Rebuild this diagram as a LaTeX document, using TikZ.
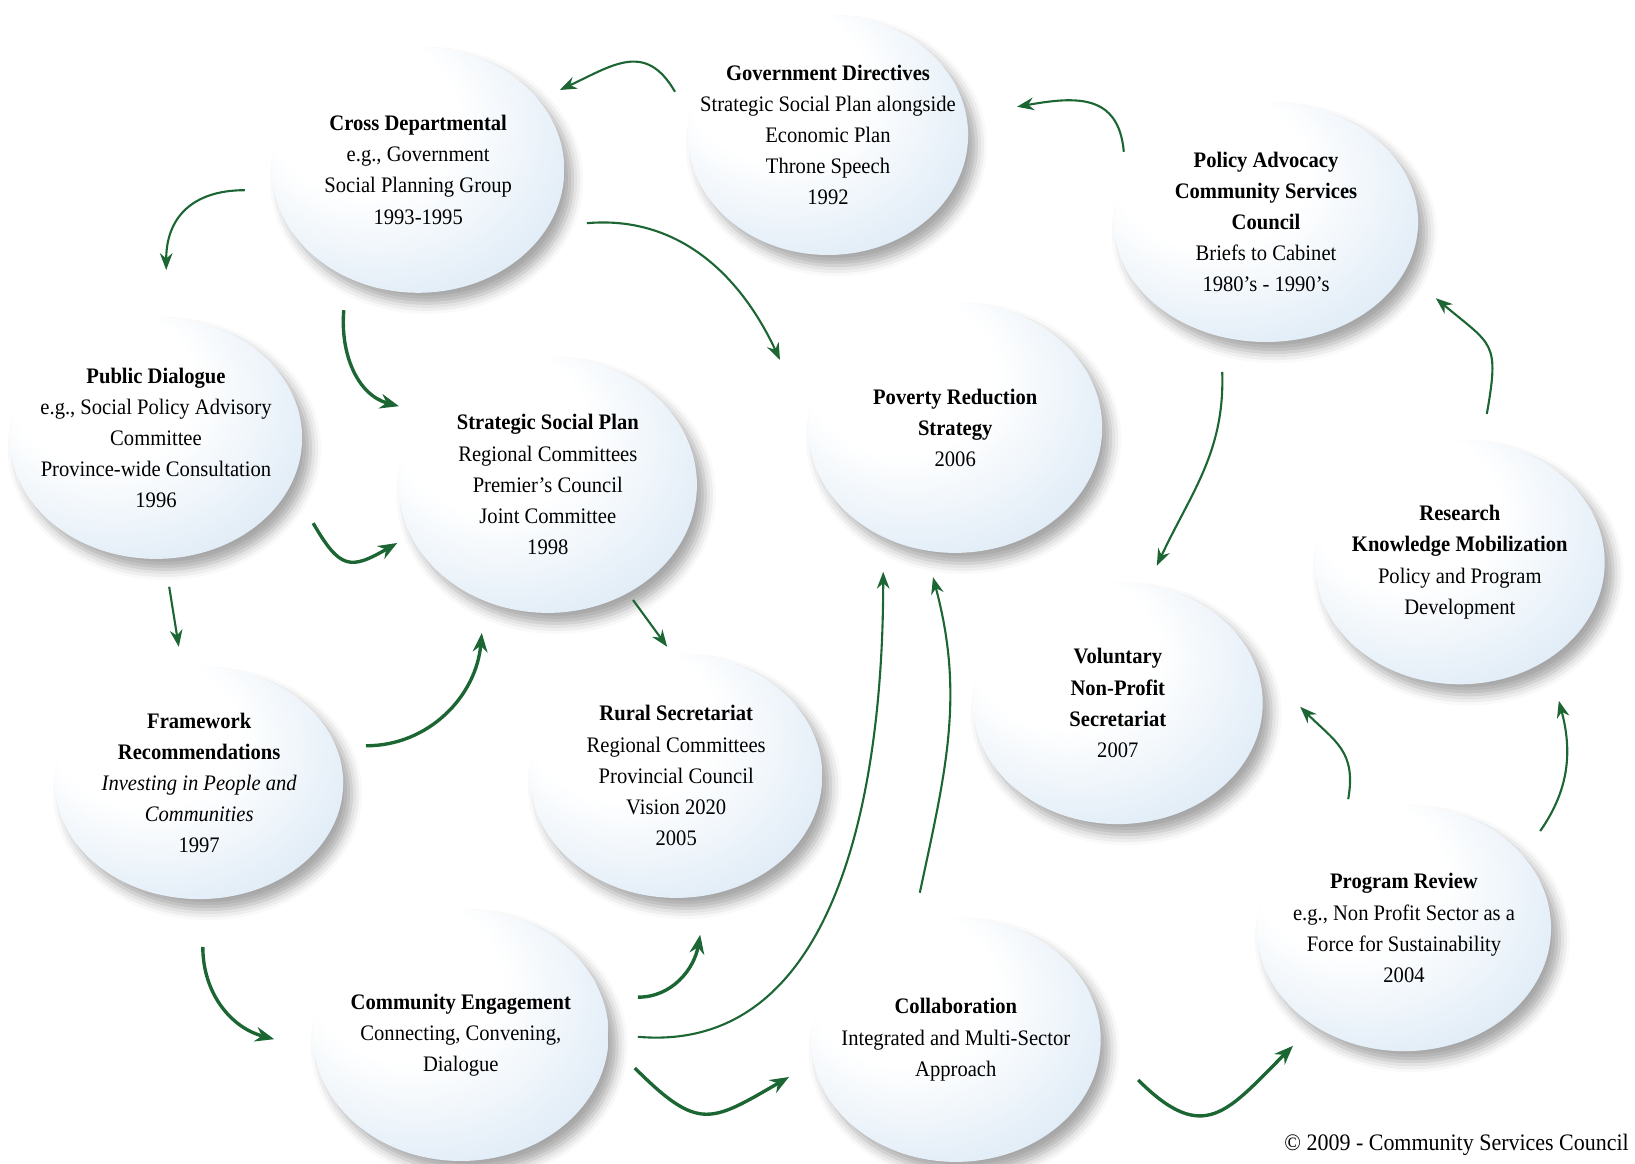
\documentclass[tikz,border=0pt]{standalone}
\usepackage{fontspec}
\setmainfont{Liberation Serif}[FakeStretch=0.93]
\usetikzlibrary{arrows.meta,shapes.geometric,shadows.blur}

\definecolor{arrowgreen}{RGB}{28,102,52}
\definecolor{bubbleblue}{RGB}{200,221,240}
\pgfdeclareradialshading{bubbleshade}{\pgfpoint{-12bp}{14bp}}{color(0bp)=(white); color(16bp)=(white); color(50bp)=(bubbleblue); color(70bp)=(bubbleblue)}

\tikzset{
    bubble/.style={ellipse, inner sep=0pt, shade, shading=bubbleshade,
        blur shadow={shadow xshift=4pt, shadow yshift=-5pt, shadow blur radius=5pt, shadow opacity=35}},
    bubtext/.style={align=center, inner sep=0pt, font=\fontsize{10.5}{14.8}\selectfont},
    flow/.style={draw=arrowgreen, line width=1pt, -{Stealth[length=8pt,width=6pt]}},
    bigflow/.style={flow, line width=1.6pt, -{Stealth[length=9pt,width=7pt]}},
}

\begin{document}
\begin{tikzpicture}
    \path[use as bounding box, clip] (0,0) rectangle (27.25,19.4);

    \node[bubble, minimum width=4.67cm, minimum height=4cm, label={[bubtext]center:{\textbf{Government Directives}\\Strategic Social Plan alongside\\Economic Plan\\Throne Speech\\1992}}] (gov) at (13.8,17.15) {};
    \node[bubble, minimum width=4.87cm, minimum height=4.1cm, label={[bubtext]center:{\textbf{Cross Departmental}\\e.g., Government\\Social Planning Group\\1993-1995}}] (cross) at (6.97,16.57) {};
    \node[bubble, minimum width=5.07cm, minimum height=4cm, label={[bubtext]center:{\textbf{Policy Advocacy}\\\textbf{Community Services}\\\textbf{Council}\\Briefs to Cabinet\\1980’s - 1990’s}}] (policy) at (21.1,15.7) {};
    \node[bubble, minimum width=4.87cm, minimum height=4.03cm, label={[bubtext]center:{\textbf{Public Dialogue}\\e.g., Social Policy Advisory\\Committee\\Province-wide Consultation\\1996}}] (public) at (2.6,12.1) {};
    \node[bubble, minimum width=4.97cm, minimum height=4.27cm, label={[bubtext]center:{\textbf{Strategic Social Plan}\\Regional Committees\\Premier’s Council\\Joint Committee\\1998}}] (ssp) at (9.13,11.32) {};
    \node[bubble, minimum width=4.9cm, minimum height=4.17cm, label={[bubtext]center:{\textbf{Poverty Reduction}\\\textbf{Strategy}\\2006}}] (poverty) at (15.92,12.27) {};
    \node[bubble, minimum width=4.83cm, minimum height=4.07cm, label={[bubtext]center:{\textbf{Research}\\\textbf{Knowledge Mobilization}\\Policy and Program\\Development}}] (research) at (24.33,10.03) {};
    \node[bubble, minimum width=4.8cm, minimum height=3.87cm, label={[bubtext]center:{\textbf{Framework}\\\textbf{Recommendations}\\\textit{Investing in People and}\\\textit{Communities}\\1997}}] (framework) at (3.32,6.35) {};
    \node[bubble, minimum width=4.87cm, minimum height=4.07cm, label={[bubtext]center:{\textbf{Rural Secretariat}\\Regional Committees\\Provincial Council\\Vision 2020\\2005}}] (rural) at (11.27,6.47) {};
    \node[bubble, minimum width=4.83cm, minimum height=4.03cm, label={[bubtext]center:{\textbf{Voluntary}\\\textbf{Non-Profit}\\\textbf{Secretariat}\\2007}}] (voluntary) at (18.63,7.68) {};
    \node[bubble, minimum width=4.9cm, minimum height=4.1cm, label={[bubtext]center:{\textbf{Program Review}\\e.g., Non Profit Sector as a\\Force for Sustainability\\2004}}] (program) at (23.4,3.93) {};
    \node[bubble, minimum width=4.93cm, minimum height=4.2cm, label={[bubtext]center:{\textbf{Community Engagement}\\Connecting, Convening,\\Dialogue}}] (community) at (7.68,2.15) {};
    \node[bubble, minimum width=4.83cm, minimum height=4.07cm, label={[bubtext]center:{\textbf{Collaboration}\\Integrated and Multi-Sector\\Approach}}] (collab) at (15.93,2.07) {};

    \node[anchor=base west, inner sep=0pt, font=\fontsize{11.2}{13}\selectfont] (copy) at (21.4,0.23) {© 2009 - Community Services Council};

    \coordinate (s1) at (11.25,17.87); \coordinate (e1) at (9.33,17.9);
    \coordinate (s2) at (4.08,16.23);  \coordinate (e2) at (2.77,14.9);
    \coordinate (s3) at (5.73,14.23);  \coordinate (e3) at (6.65,12.63);
    \coordinate (s4) at (9.78,15.68);  \coordinate (e4) at (13.0,13.4);
    \coordinate (s5) at (18.73,16.87); \coordinate (e5) at (16.95,17.62);
    \coordinate (s6) at (5.22,10.68);  \coordinate (e6) at (6.62,10.35);
    \coordinate (s7) at (2.82,9.62);   \coordinate (e7) at (2.98,8.62);
    \coordinate (s8) at (6.1,6.97);    \coordinate (e8) at (8.03,8.85);
    \coordinate (s9) at (10.55,9.4);   \coordinate (e9) at (11.12,8.62);
    \coordinate (s10) at (20.37,13.2); \coordinate (e10) at (19.28,9.97);
    \coordinate (s13) at (3.38,3.62);  \coordinate (e13) at (4.57,2.08);
    \coordinate (s14) at (10.63,2.78); \coordinate (e14) at (11.67,3.82);
    \coordinate (s15) at (10.63,2.12); \coordinate (e15) at (14.72,9.87);
    \coordinate (s16) at (10.58,1.6);  \coordinate (e16) at (13.15,1.45);
    \coordinate (s17) at (15.33,4.52); \coordinate (e17) at (15.55,9.78);
    \coordinate (s18) at (22.47,6.08); \coordinate (e18) at (21.67,7.62);
    \coordinate (s19) at (25.67,5.55); \coordinate (e19) at (25.98,7.72);
    \coordinate (s20) at (18.97,1.4);  \coordinate (e20) at (21.55,1.97);
    \coordinate (s21) at (24.78,12.5); \coordinate (e21) at (23.93,14.43);

    \draw[flow] (s1) to[out=120, in=25, looseness=1.3] (e1);
    \draw[flow] (s2) to[out=180, in=90, looseness=1.2] (e2);
    \draw[bigflow] (s3) to[out=-95, in=165] (e3);
    \draw[flow] (s4) to[out=5, in=115] (e4);
    \draw[flow] (s5) to[out=95, in=10, looseness=1.3] (e5);
    \draw[bigflow] (s6) to[out=-60, in=210, looseness=1.6] (e6);
    \draw[flow] (s7) -- (e7);
    \draw[bigflow] (s8) to[out=0, in=-95] (e8);
    \draw[flow] (s9) -- (e9);
    \draw[flow] (s10) to[out=-88, in=65] (e10);
    \draw[bigflow] (s13) to[out=-90, in=165] (e13);
    \draw[bigflow] (s14) to[out=0, in=-100] (e14);
    \draw[flow] (s15) to[out=-5, in=-90] (e15);
    \draw[bigflow] (s16) to[out=-45, in=210, looseness=1.5] (e16);
    \draw[flow] (s17) to[out=78, in=-75] (e17);
    \draw[flow] (s18) to[out=80, in=-45, looseness=1.2] (e18);
    \draw[flow] (s19) to[out=55, in=-75] (e19);
    \draw[bigflow] (s20) to[out=-45, in=225, looseness=1.5] (e20);
    \draw[flow] (s21) to[out=80, in=-40, looseness=1.5] (e21);
\end{tikzpicture}
\end{document}
